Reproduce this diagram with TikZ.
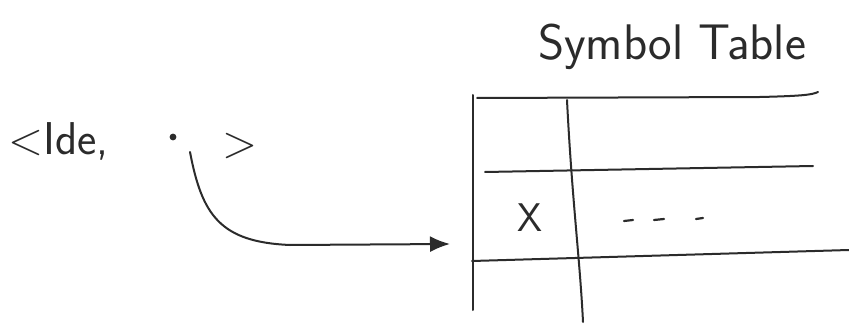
\documentclass[tikz,border=0pt]{standalone}
\usepackage{fontspec}
\usetikzlibrary{arrows.meta}
\definecolor{ink}{HTML}{2B2B2B}
\tikzset{
  hand/.style={draw=ink, line width=2pt, line cap=round},
  bigtxt/.style={text=ink, inner sep=0pt, font=\fontsize{50}{50}\selectfont\sffamily},
  tuptxt/.style={text=ink, inner sep=0pt, font=\fontsize{46}{46}\selectfont\sffamily},
  celltxt/.style={text=ink, inner sep=0pt, font=\fontsize{40}{40}\selectfont\sffamily}
}
\begin{document}
\begin{tikzpicture}[x=1pt,y=-1pt]
\useasboundingbox (0,0) rectangle (849,326);
\fill[white] (0,0) rectangle (849,326);
% title
\node[bigtxt, anchor=base] (title) at (672,60) {Symbol Table};
% tuple
\node[tuptxt, anchor=base west] (ide) at (8,155) {<Ide,};
\node[circle, fill=ink, inner sep=2.4pt] (dot) at (173,137) {};
\node[tuptxt, anchor=base] (gt) at (240,158) {>};
% table
\coordinate (tl) at (473,95);
\coordinate (bl) at (473,310);
\draw[hand] (tl) -- (bl);
\draw[hand] (567,100) .. controls (572,200) and (580,260) .. (583,322);
\draw[hand] (477,98) -- (760,97) .. controls (800,96) and (812,95) .. (818,92);
\draw[hand] (485,172) -- (813,166);
\draw[hand] (472,261) -- (849,250);
\node[celltxt] (x) at (530,218) {X};
\draw[hand, line width=2.2pt] (624,221) -- (633,220) (654,220) -- (664,219) (696,219) -- (703,218);
\coordinate (dots) at (664,219);
% pointer
\coordinate (ptr) at (190,152);
\coordinate (tgt) at (450,244);
\draw[hand, -{Latex[length=20pt,width=16pt]}] (ptr) .. controls (202,215) and (220,242) .. (290,245) -- (tgt);
\end{tikzpicture}
\end{document}
